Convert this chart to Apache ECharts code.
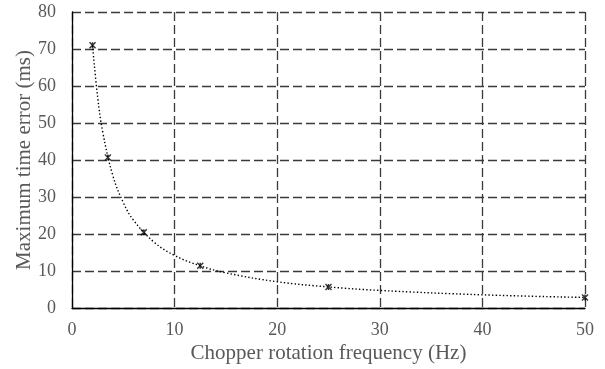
<!DOCTYPE html>
<html>
<head>
<meta charset="utf-8">
<script src="https://cdn.jsdelivr.net/npm/echarts@6/dist/echarts.min.js"></script>
<style>
  html, body { margin: 0; padding: 0; background: #fff; }
  #chart { width: 605px; height: 369px; }
</style>
</head>
<body>
<div id="chart"></div>
<script>
// measured points (Hz, ms)
const freq = [2, 3.5, 7, 12.5, 25, 50];
const maxError = [71, 40.7, 20.5, 11.4, 5.7, 2.85];

// dotted trend line
const trendFreq = [2, 2.5, 3, 4, 5, 6, 8, 10, 12.5, 15, 20, 25, 30, 40, 50];
const trendError = [71, 57, 47.5, 35.6, 28.5, 23.7, 17.8, 14.2, 11.4, 9.5, 7.1, 5.7, 4.75, 3.56, 2.85];

const xTicks = { min: 0, max: 50, interval: 10 };
const yTicks = { min: 0, max: 80, interval: 10 };

const font = '"Liberation Serif", "Times New Roman", serif';
const textGrey = '#595959';

const chart = echarts.init(document.getElementById('chart'), null, { renderer: 'canvas' });

const gridLine = {
  show: true,
  lineStyle: { color: '#3a3a3a', width: 1.3, type: [9, 4] }
};

chart.setOption({
  animation: false,
  grid: { left: 72, right: 20, top: 12, bottom: 61 },
  xAxis: {
    type: 'value',
    min: xTicks.min, max: xTicks.max, interval: xTicks.interval,
    name: 'Chopper rotation frequency (Hz)',
    nameLocation: 'middle',
    nameGap: 35,
    nameMoveOverlap: false,
    nameTextStyle: { fontFamily: font, fontSize: 21, color: textGrey },
    axisLine: { show: true, onZero: false, lineStyle: { color: '#000', width: 1.3 } },
    axisTick: { show: false },
    axisLabel: { fontFamily: font, fontSize: 18, color: textGrey, margin: 13 },
    splitLine: gridLine
  },
  yAxis: {
    type: 'value',
    min: yTicks.min, max: yTicks.max, interval: yTicks.interval,
    name: 'Maximum time error (ms)',
    nameLocation: 'middle',
    nameGap: 37,
    nameMoveOverlap: false,
    nameTextStyle: { fontFamily: font, fontSize: 21, color: textGrey },
    axisLine: { show: true, lineStyle: { color: '#000', width: 1.3 } },
    axisTick: { show: false },
    axisLabel: { fontFamily: font, fontSize: 18, color: textGrey, margin: 16 },
    splitLine: gridLine
  },
  series: [
    {
      type: 'line',
      data: trendFreq.map((f, i) => [f, trendError[i]]),
      smooth: 0.4,
      showSymbol: false,
      symbol: 'none',
      lineStyle: { color: '#000', width: 1.4, type: [1.4, 2.2] },
      z: 3
    },
    {
      type: 'scatter',
      data: freq.map((f, i) => [f, maxError[i]]),
      symbol: 'path://M0,0L10,10M10,0L0,10M5,0L5,10',
      symbolSize: 6,
      itemStyle: { color: 'rgba(0,0,0,0)', borderColor: '#000', borderWidth: 1.4 },
      z: 4
    }
  ]
});
</script>
</body>
</html>
